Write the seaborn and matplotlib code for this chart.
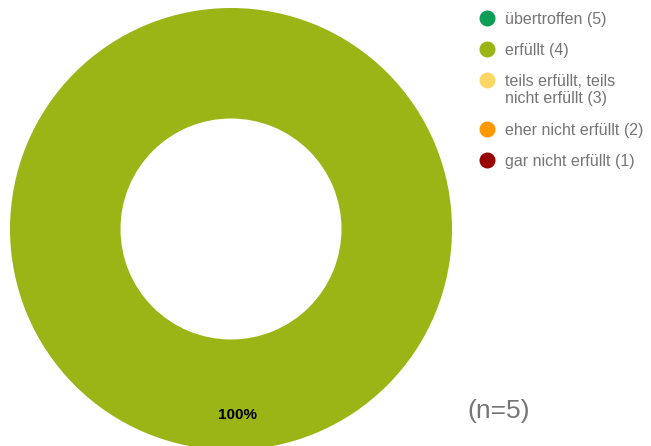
import seaborn as sns
import matplotlib.pyplot as plt
from matplotlib.lines import Line2D

# Daten
kategorien = ['übertroffen (5)', 'erfüllt (4)', 'teils erfüllt, teils\nnicht erfüllt (3)',
              'eher nicht erfüllt (2)', 'gar nicht erfüllt (1)']
anzahl = [0, 5, 0, 0, 0]
farben = ['#0f9d58', '#9ab515', '#fdd663', '#ff9800', '#990000']
n_text = '(n=5)'

sns.set_style('white')
plt.rcParams['font.family'] = ['Liberation Sans', 'DejaVu Sans']

fig = plt.figure(figsize=(6.51, 4.46), dpi=100)
ax = fig.add_axes([10 / 651, -4 / 446, 442 / 651, 442 / 446])

wedges, texts, autotexts = ax.pie(
    anzahl, colors=farben, startangle=90, counterclock=False,
    autopct=lambda p: f'{p:.0f}%' if p > 0 else '', pctdistance=0.84,
    wedgeprops=dict(width=0.5, linewidth=0),
    textprops=dict(fontsize=11, fontweight='bold', color='black'))
for t in autotexts:
    t.set_x(t.get_position()[0] + 0.03)
ax.set_xlim(-1, 1)
ax.set_ylim(-1, 1)
ax.set_aspect('equal')
ax.axis('off')

# Legende rechts oben
y = 1 - 18 / 446
for lab, col in zip(kategorien, farben):
    fig.add_artist(Line2D([487 / 651], [y], marker='o', markersize=10.5,
                          color=col, linestyle='none', transform=fig.transFigure))
    fig.text(505 / 651, y + 6 / 446, lab, fontsize=11.5, color='#757575',
             va='top', ha='left', linespacing=1.2)
    y -= (31 + 18 * lab.count('\n')) / 446

fig.text(499 / 651, 1 - 411 / 446, n_text, fontsize=19, color='#757575',
         ha='center', va='center')

fig.savefig('out.png', dpi=100)
